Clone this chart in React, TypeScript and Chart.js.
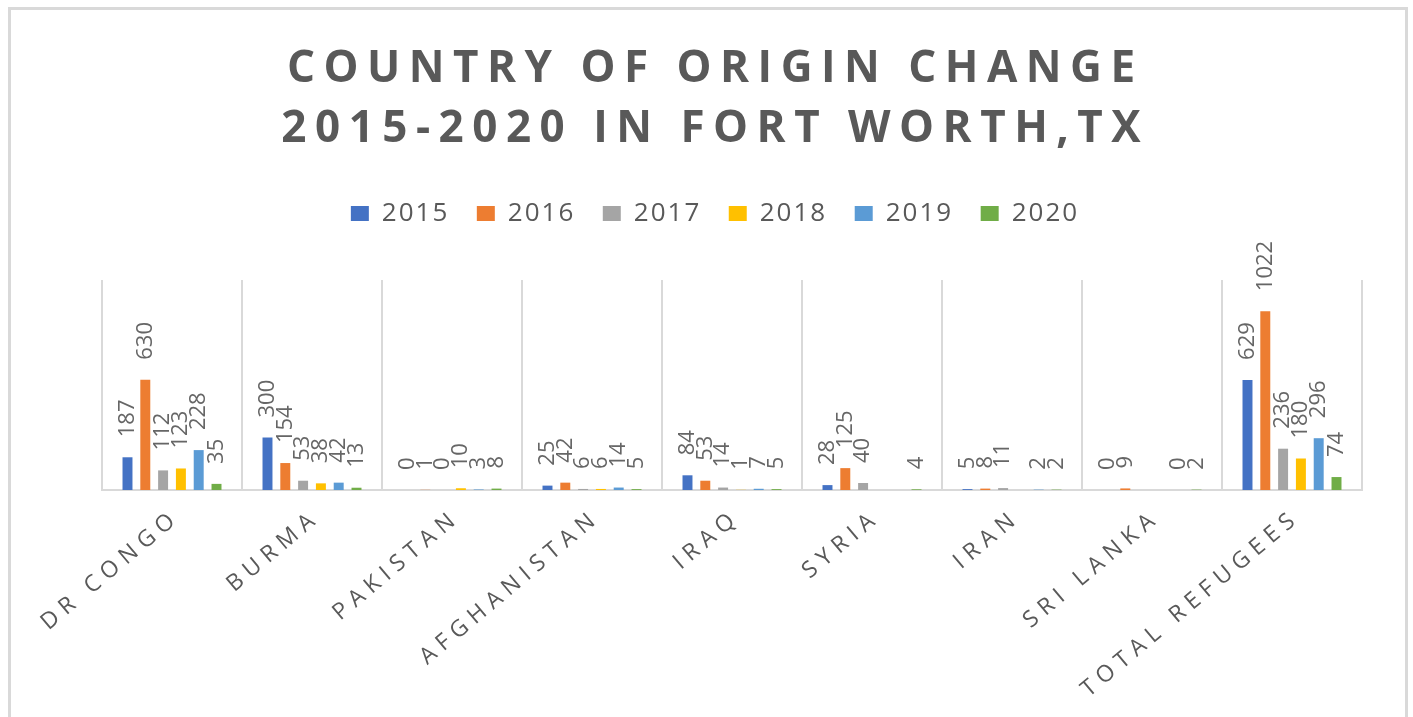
import React, { useEffect, useRef } from 'react';
import { Chart, registerables } from 'chart.js';

Chart.register(...registerables);

const categories = ['DR CONGO', 'BURMA', 'PAKISTAN', 'AFGHANISTAN', 'IRAQ', 'SYRIA', 'IRAN', 'SRI LANKA', 'TOTAL REFUGEES'];
const years = ['2015', '2016', '2017', '2018', '2019', '2020'];
const v2015 = [187, 300, 0, 25, 84, 28, 5, 0, 629];
const v2016 = [630, 154, 1, 42, 53, 125, 8, 9, 1022];
const v2017 = [112, 53, 0, 6, 14, 40, 11, null, 236];
const v2018 = [123, 38, 10, 6, 1, null, null, null, 180];
const v2019 = [228, 42, 3, 14, 7, null, 2, 0, 296];
const v2020 = [35, 13, 8, 5, 5, 4, 2, 2, 74];
const seriesValues = [v2015, v2016, v2017, v2018, v2019, v2020];
const colors = ['#4472C4', '#ED7D31', '#A5A5A5', '#FFC000', '#5B9BD5', '#70AD47'];
const titleLines = ['COUNTRY OF ORIGIN CHANGE', '2015-2020 IN FORT WORTH,TX'];

const W = 1413;
const H = 717;
const TEXT = '#595959';
const GRID = '#d9d9d9';
const FONT = "'Open Sans', 'DejaVu Sans', sans-serif";

const spacingPlugin = {
  id: 'letterSpacingPatch',
  beforeInit(chart: any) {
    const ctx = chart.ctx as any;
    if (ctx.__lsPatched) return;
    ctx.__lsPatched = true;
    const orig = ctx.fillText.bind(ctx);
    ctx.fillText = function (text: string, x: number, y: number, maxWidth?: number) {
      const f: string = ctx.font;
      let ls = 0;
      if (f.includes('44px')) ls = 8.5;
      else if (f.includes('23px')) ls = 6.5;
      else if (f.includes('26px')) ls = 2;
      const prev = ctx.letterSpacing;
      ctx.letterSpacing = ls + 'px';
      let dx = 0;
      if (ls) {
        if (ctx.textAlign === 'center') dx = ls / 2;
        else if (ctx.textAlign === 'right' || ctx.textAlign === 'end') dx = ls;
      }
      if (maxWidth === undefined) orig(text, x + dx, y);
      else orig(text, x + dx, y, maxWidth + 400);
      ctx.letterSpacing = prev;
    };
  },
};

const legendSpacer = {
  id: 'legendSpacer',
  beforeLayout(chart: any) {
    const legend = chart.legend;
    if (!legend || legend.__patched) return;
    legend.__patched = true;
    const orig = legend.fit;
    legend.fit = function () {
      orig.call(this);
      this.height = 115;
    };
  },
};

const framePlugin = {
  id: 'frame',
  beforeDraw(chart: any) {
    const ctx = chart.ctx;
    ctx.save();
    ctx.fillStyle = GRID;
    ctx.fillRect(8, 7, 1400, 3);
    ctx.fillRect(8, 7, 3, H);
    ctx.fillRect(1405, 7, 3, H);
    ctx.restore();
  },
};

const dataLabels = {
  id: 'rotatedLabels',
  afterDatasetsDraw(chart: any) {
    const ctx = chart.ctx;
    ctx.save();
    ctx.font = `22px ${FONT}`;
    ctx.fillStyle = '#666666';
    ctx.textAlign = 'left';
    ctx.textBaseline = 'middle';
    chart.data.datasets.forEach((ds: any, i: number) => {
      const meta = chart.getDatasetMeta(i);
      meta.data.forEach((bar: any, j: number) => {
        const v = ds.data[j];
        if (v === null || v === undefined) return;
        ctx.save();
        ctx.translate(bar.x, bar.y - 20);
        ctx.rotate(-Math.PI / 2);
        ctx.fillText(String(v), 0, 0);
        ctx.restore();
      });
    });
    ctx.restore();
  },
};

export default function App() {
  const ref = useRef<HTMLCanvasElement>(null);

  useEffect(() => {
    if (!ref.current) return;
    const chart = new Chart(ref.current, {
      type: 'bar',
      data: {
        labels: categories,
        datasets: years.map((y, i) => ({
          label: y,
          data: seriesValues[i],
          backgroundColor: colors[i],
          borderWidth: 0,
          categoryPercentage: 0.763,
          barPercentage: 0.56,
        })),
      },
      options: {
        responsive: false,
        animation: false,
        devicePixelRatio: 1,
        layout: { padding: { left: 60, right: 51, top: 0, bottom: 0 } },
        plugins: {
          title: {
            display: true,
            text: titleLines,
            color: TEXT,
            font: { family: FONT, size: 44, weight: 'bold', lineHeight: 60 / 44 },
            padding: { top: 39, bottom: 6 },
          },
          legend: {
            display: true,
            position: 'top',
            labels: {
              color: TEXT,
              font: { family: FONT, size: 26 },
              boxWidth: 18,
              boxHeight: 15,
              padding: 35.5,
            },
          },
          tooltip: { enabled: false },
        },
        scales: {
          x: {
            grid: { display: true, color: GRID, lineWidth: 2, offset: true, drawTicks: false },
            border: { display: true, color: GRID, width: 2 },
            ticks: {
              color: TEXT,
              font: { family: FONT, size: 23 },
              minRotation: 40,
              maxRotation: 40,
              autoSkip: false,
              padding: 18,
            },
            afterFit: (s: any) => {
              s.height = 227;
            },
          },
          y: {
            display: true,
            min: 0,
            max: 1200,
            ticks: { display: false },
            grid: { display: false, drawTicks: false },
            border: { display: false },
            afterFit: (s: any) => {
              s.width = 42;
            },
          },
        },
      },
      plugins: [spacingPlugin, legendSpacer, framePlugin, dataLabels],
    } as any);
    return () => chart.destroy();
  }, []);

  return (
    <div style={{ position: 'fixed', left: 0, top: 0, width: W, height: H, background: '#ffffff' }}>
      <canvas ref={ref} width={W} height={H} style={{ width: W, height: H, display: 'block' }} />
    </div>
  );
}
